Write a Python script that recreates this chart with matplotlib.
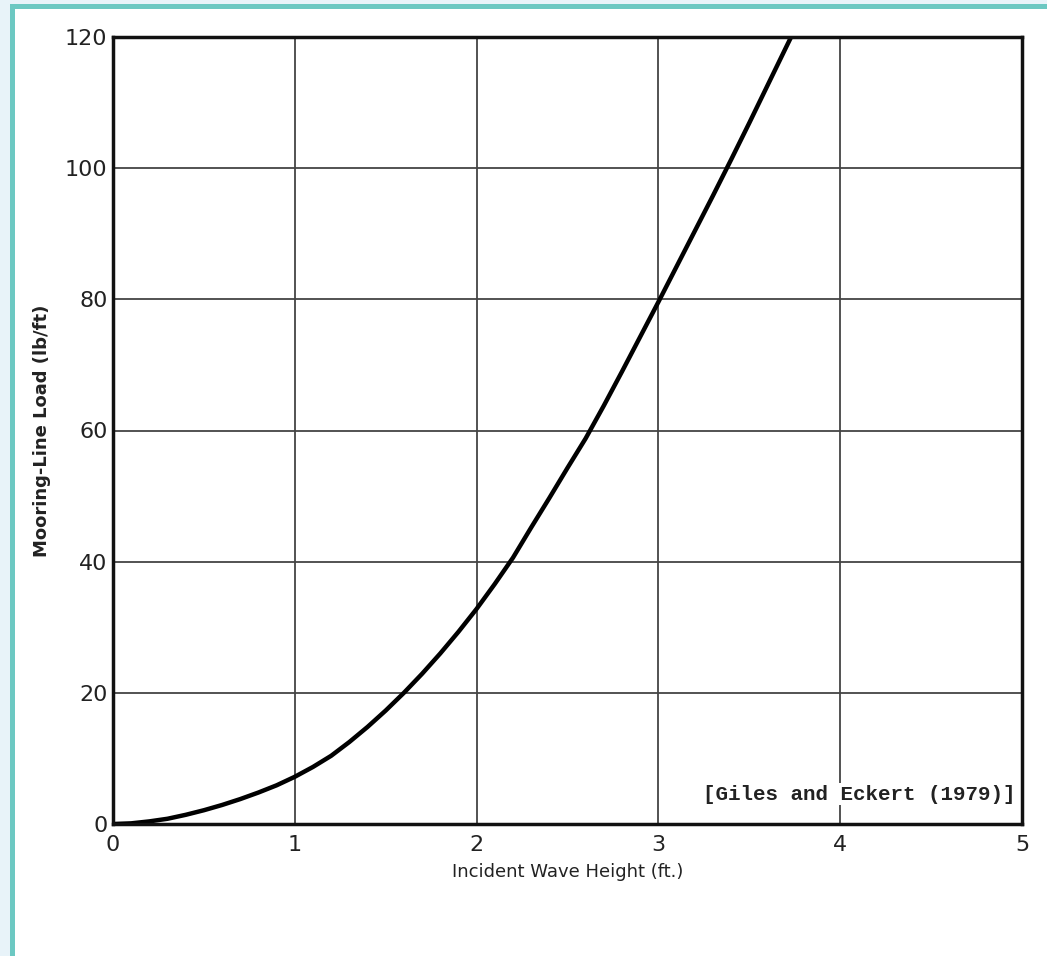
import matplotlib.pyplot as plt
from matplotlib.patches import Rectangle

# values
wave_height = [0.0, 0.1, 0.2, 0.3, 0.4, 0.5, 0.6, 0.7, 0.8, 0.9, 1.0,
               1.1, 1.2, 1.3, 1.4, 1.5, 1.6, 1.7, 1.8, 1.9, 2.0,
               2.1, 2.2, 2.3, 2.4, 2.5, 2.6, 2.7, 2.8, 2.9, 3.0,
               3.1, 3.2, 3.3, 3.4, 3.5, 3.6, 3.7, 3.73]
line_load = [0.0, 0.1, 0.4, 0.8, 1.4, 2.1, 2.9, 3.8, 4.8, 5.9, 7.2,
             8.7, 10.4, 12.5, 14.8, 17.3, 20.0, 22.9, 26.0, 29.3, 32.8,
             36.6, 40.6, 45.2, 49.7, 54.3, 58.8, 63.8, 69.0, 74.3, 79.6,
             85.0, 90.4, 95.8, 101.3, 106.9, 112.6, 118.3, 120.0]

x_ticks = [0, 1, 2, 3, 4, 5]
y_ticks = [0, 20, 40, 60, 80, 100, 120]
y_tick_labels = ['0', '20', '40', '60', '80', '100', '120']

fig = plt.figure(figsize=(10.47, 9.56), dpi=100)
fig.patch.set_facecolor('white')

# page frame: pale strip and teal border on the left and top
fig.patches.append(Rectangle((0, 0), 10 / 1047, 1, transform=fig.transFigure,
                             facecolor='#e8f3f9', edgecolor='none', zorder=0))
fig.patches.append(Rectangle((0, 1 - 4 / 956), 1, 4 / 956, transform=fig.transFigure,
                             facecolor='#e8f3f9', edgecolor='none', zorder=0))
fig.patches.append(Rectangle((10 / 1047, 0), 5 / 1047, 1 - 4 / 956, transform=fig.transFigure,
                             facecolor='#6cc8c2', edgecolor='none', zorder=1))
fig.patches.append(Rectangle((10 / 1047, 1 - 9 / 956), 1 - 10 / 1047, 5 / 956,
                             transform=fig.transFigure,
                             facecolor='#6cc8c2', edgecolor='none', zorder=1))

ax = fig.add_axes([113 / 1047, 1 - 824 / 956, (1022 - 113) / 1047, (824 - 37) / 956])

ax.plot(wave_height, line_load, color='black', linewidth=3.2, solid_joinstyle='round')

ax.set_xlim(0, 5)
ax.set_ylim(0, 120)
ax.set_xticks(x_ticks)
ax.set_yticks(y_ticks)
ax.set_yticklabels(y_tick_labels)
ax.grid(True, color='#444444', linewidth=1.3)
ax.set_axisbelow(True)
ax.tick_params(length=0, labelsize=16, colors='#222222')
ax.tick_params(axis='x', pad=8)
ax.tick_params(axis='y', pad=4)
for s in ax.spines.values():
    s.set_linewidth(2.5)
    s.set_color('#111111')

ax.set_xlabel('Incident Wave Height (ft.)', fontsize=13, labelpad=6, color='#222222')
ax.set_ylabel('Mooring-Line Load (lb/ft)', fontsize=13, labelpad=10,
              fontweight='bold', color='#222222')

ax.text(0.993, 0.038, '[Giles and Eckert (1979)]', transform=ax.transAxes,
        ha='right', va='center', fontsize=15, family='Liberation Mono',
        fontweight='bold', color='#222222',
        bbox=dict(facecolor='white', edgecolor='none', pad=1))

fig.savefig('out.png', dpi=100)
